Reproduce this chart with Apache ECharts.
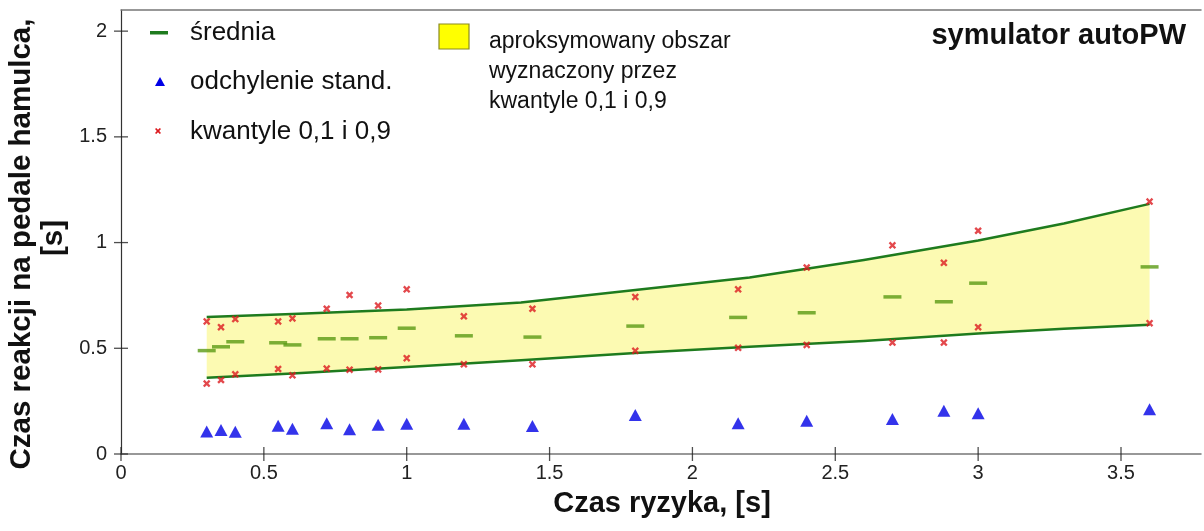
<!DOCTYPE html>
<html>
<head>
<meta charset="utf-8">
<script src="https://cdn.jsdelivr.net/npm/echarts@6/dist/echarts.min.js"></script>
<style>
html,body{margin:0;padding:0;background:#fff;}
#chart{width:1204px;height:531px;}
</style>
</head>
<body>
<div id="chart"></div>
<script>
// ---- data ----
const riskTime = [0.3, 0.35, 0.4, 0.55, 0.6, 0.72, 0.8, 0.9, 1.0, 1.2, 1.44, 1.8, 2.16, 2.4, 2.7, 2.88, 3.0, 3.6];
const meanVals = [0.489, 0.507, 0.531, 0.526, 0.516, 0.545, 0.545, 0.55, 0.595, 0.559, 0.553, 0.605, 0.646, 0.668, 0.743, 0.72, 0.808, 0.885];
const stdVals  = [0.106, 0.114, 0.105, 0.134, 0.119, 0.146, 0.117, 0.138, 0.143, 0.143, 0.132, 0.184, 0.146, 0.157, 0.166, 0.204, 0.193, 0.212];
const q90Vals  = [0.627, 0.60, 0.638, 0.627, 0.641, 0.687, 0.752, 0.702, 0.779, 0.651, 0.687, 0.743, 0.779, 0.882, 0.987, 0.904, 1.056, 1.194];
const q10Vals  = [0.333, 0.35, 0.377, 0.402, 0.372, 0.404, 0.399, 0.40, 0.453, 0.424, 0.424, 0.488, 0.502, 0.516, 0.527, 0.527, 0.60, 0.619];
const bandX     = [0.3, 0.6, 1.0, 1.4, 1.8, 2.2, 2.6, 3.0, 3.3, 3.6];
const bandUpper = [0.648, 0.662, 0.683, 0.716, 0.776, 0.835, 0.918, 1.01, 1.09, 1.183];
const bandLower = [0.361, 0.381, 0.412, 0.443, 0.478, 0.507, 0.535, 0.570, 0.592, 0.611];
const xTicks = [0, 0.5, 1, 1.5, 2, 2.5, 3, 3.5];
const yTicks = [0, 0.5, 1, 1.5, 2];

const xTitle = 'Czas ryzyka, [s]';
const yTitle1 = 'Czas reakcji na pedale hamulca,';
const yTitle2 = '[s]';
const chartTitle = 'symulator autoPW';
const legendLeft = ['średnia', 'odchylenie stand.', 'kwantyle 0,1 i 0,9'];
const legendRight = ['aproksymowany obszar', 'wyznaczony przez', 'kwantyle 0,1 i 0,9'];

// ---- styles ----
const SANS = '"Liberation Sans", Arial, sans-serif';
const GREEN = '#1e7b1e';
const DASH = '#5a9a14';
const BLUE = '#0000e6';
const RED = '#dc1a1f';
const BAND = '#fcfab2';
const XMARK = 'path://M0,2.2 L2.2,0 L5,2.8 L7.8,0 L10,2.2 L7.2,5 L10,7.8 L7.8,10 L5,7.2 L2.2,10 L0,7.8 L2.8,5 Z';

const pairs = (xs, ys) => xs.map((x, i) => [x, ys[i]]);

const chart = echarts.init(document.getElementById('chart'), null, {renderer: 'canvas'});

const xMin = 0, xMax = 3.78, yMin = 0, yMax = 2.1;

function renderBand(params, api) {
  const top = bandX.map((x, i) => api.coord([x, bandUpper[i]]));
  const bottom = bandX.map((x, i) => api.coord([x, bandLower[i]]));
  return {
    type: 'group',
    children: [
      {type: 'polygon', shape: {points: top.concat(bottom.slice().reverse())}, style: {fill: BAND}},
      {type: 'polyline', shape: {points: top}, style: {stroke: GREEN, lineWidth: 2.5, fill: null}},
      {type: 'polyline', shape: {points: bottom}, style: {stroke: GREEN, lineWidth: 2.5, fill: null}}
    ]
  };
}

const option = {
  animation: false,
  backgroundColor: '#fff',
  grid: {left: 121, right: 3, top: 10, bottom: 77, containLabel: false},
  xAxis: [
    {
      type: 'value', min: xMin, max: xMax, interval: 0.5, position: 'bottom',
      splitLine: {show: false},
      axisLine: {show: true, onZero: false, lineStyle: {color: '#777', width: 1.5}},
      axisTick: {show: false},
      axisLabel: {customValues: xTicks, margin: 9, color: '#222', fontFamily: SANS, fontSize: 20,
        formatter: v => String(v)},
    },
    {
      type: 'value', min: xMin, max: xMax, position: 'top',
      splitLine: {show: false},
      axisLine: {show: true, onZero: false, lineStyle: {color: '#777', width: 1.5}},
      axisTick: {show: false},
      axisLabel: {show: false},
    }
  ],
  yAxis: [
    {
      type: 'value', min: yMin, max: yMax, interval: 0.5, position: 'left',
      splitLine: {show: false},
      axisLine: {show: true, onZero: false, lineStyle: {color: '#333', width: 1.2}},
      axisTick: {show: false},
      axisLabel: {customValues: yTicks, margin: 14, color: '#222', fontFamily: SANS, fontSize: 20,
        formatter: v => String(v)},
    }
  ],
  series: [
    {
      name: 'aproksymowany obszar', type: 'custom', renderItem: renderBand,
      data: [[bandX[0], bandLower[0]]], silent: true, clip: true, z: 1
    },
    // cross-style tick marks on both axes
    {
      name: 'xTickMarks', type: 'scatter', data: xTicks.map(v => [v, yMin]), silent: true, clip: false,
      symbol: 'rect', symbolSize: [1.3, 14], itemStyle: {color: '#222'}, z: 4
    },
    {
      name: 'yTickMarks', type: 'scatter', data: yTicks.map(v => [xMin, v]), silent: true, clip: false,
      symbol: 'rect', symbolSize: [14, 1.3], itemStyle: {color: '#222'}, z: 4
    },
    {
      name: 'średnia', type: 'scatter', data: pairs(riskTime, meanVals),
      symbol: 'rect', symbolSize: [18, 3.5], itemStyle: {color: DASH}, z: 3
    },
    {
      name: 'kwantyl 0,9', type: 'scatter', data: pairs(riskTime, q90Vals),
      symbol: XMARK, symbolSize: 7.5, itemStyle: {color: RED}, z: 3
    },
    {
      name: 'kwantyl 0,1', type: 'scatter', data: pairs(riskTime, q10Vals),
      symbol: XMARK, symbolSize: 7.5, itemStyle: {color: RED}, z: 3
    },
    {
      name: 'odchylenie stand.', type: 'scatter', data: pairs(riskTime, stdVals),
      symbol: 'triangle', symbolSize: [13, 12], itemStyle: {color: BLUE}, z: 3
    }
  ],
  graphic: [
    // axis titles
    {type: 'text', x: 662, y: 504, style: {text: xTitle, font: 'bold 29px ' + SANS, fill: '#111', align: 'center', verticalAlign: 'middle'}},
    {type: 'text', x: 22, y: 244, rotation: Math.PI / 2, style: {text: yTitle1, font: 'bold 29.5px ' + SANS, fill: '#111', align: 'center', verticalAlign: 'middle'}},
    {type: 'text', x: 54, y: 238, rotation: Math.PI / 2, style: {text: yTitle2, font: 'bold 29.5px ' + SANS, fill: '#111', align: 'center', verticalAlign: 'middle'}},
    // title
    {type: 'text', x: 1186, y: 36, style: {text: chartTitle, font: 'bold 29px ' + SANS, fill: '#111', align: 'right', verticalAlign: 'middle'}},
    // left legend
    {type: 'rect', shape: {x: 150, y: 31, width: 18, height: 3.5}, style: {fill: GREEN}},
    {type: 'text', x: 190, y: 33, style: {text: legendLeft[0], font: '26px ' + SANS, fill: '#111', verticalAlign: 'middle'}},
    {type: 'polygon', shape: {points: [[160, 77], [155, 86], [165, 86]]}, style: {fill: BLUE}},
    {type: 'text', x: 190, y: 82, style: {text: legendLeft[1], font: '26px ' + SANS, fill: '#111', verticalAlign: 'middle'}},
    {type: 'polygon', shape: {points: [[155, 129], [156.2, 128], [158, 129.8], [159.8, 128], [161, 129], [159.2, 131], [161, 133], [159.8, 134], [158, 132.2], [156.2, 134], [155, 133], [156.8, 131]]}, style: {fill: RED}},
    {type: 'text', x: 190, y: 132, style: {text: legendLeft[2], font: '26px ' + SANS, fill: '#111', verticalAlign: 'middle'}},
    // right legend
    {type: 'rect', shape: {x: 439, y: 24, width: 30, height: 25}, style: {fill: '#ffff00', stroke: '#8a8a20', lineWidth: 1.2}},
    {type: 'text', x: 489, y: 42, style: {text: legendRight[0], font: '23px ' + SANS, fill: '#111', verticalAlign: 'middle'}},
    {type: 'text', x: 489, y: 72, style: {text: legendRight[1], font: '23px ' + SANS, fill: '#111', verticalAlign: 'middle'}},
    {type: 'text', x: 489, y: 102, style: {text: legendRight[2], font: '23px ' + SANS, fill: '#111', verticalAlign: 'middle'}}
  ]
};
chart.setOption(option);
</script>
</body>
</html>
